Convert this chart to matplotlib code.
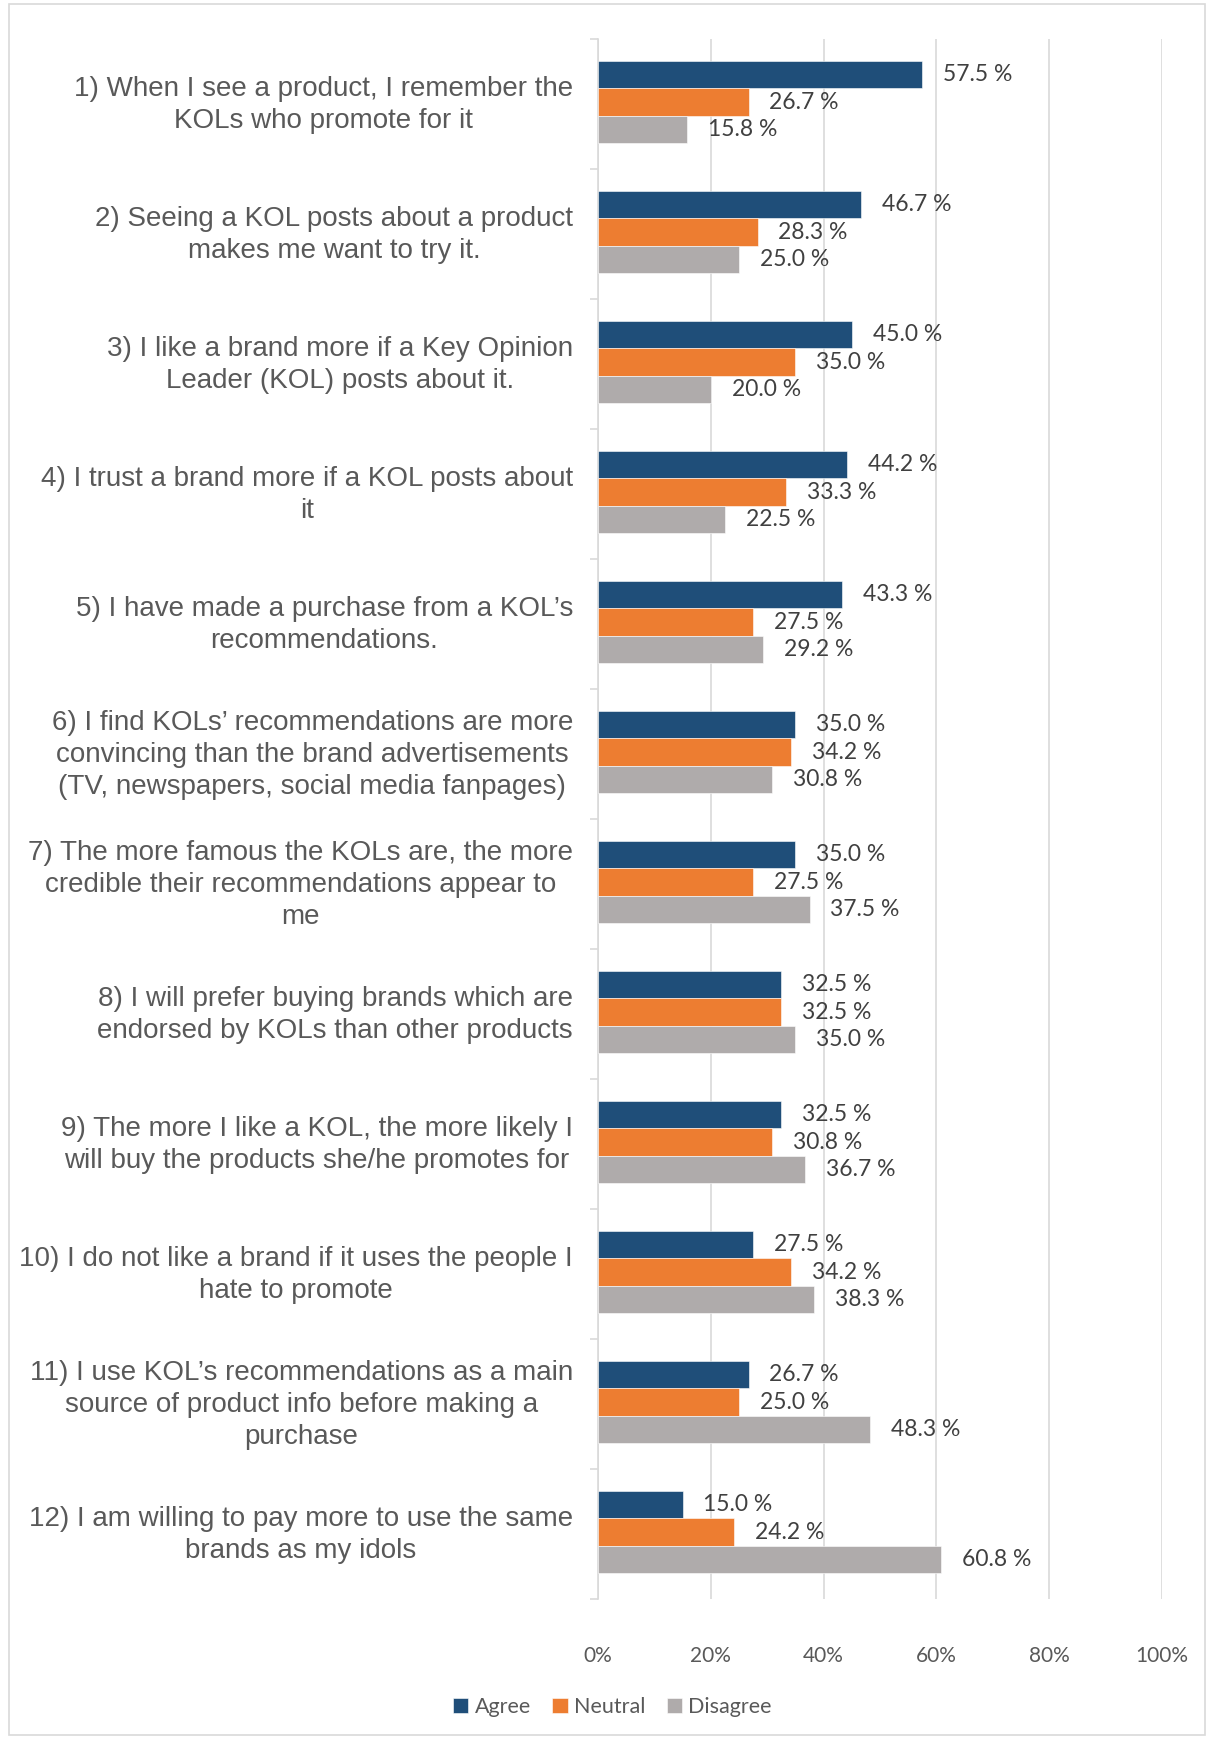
import numpy as np
import matplotlib
matplotlib.use("Agg")
import matplotlib.pyplot as plt
from matplotlib.patches import Rectangle

statements = [
    "1) When I see a product, I remember the\nKOLs who promote for it",
    "2) Seeing a KOL posts about a product\nmakes me want to try it.",
    "3) I like a brand more if a Key Opinion\nLeader (KOL) posts about it.",
    "4) I trust a brand more if a KOL posts about\nit",
    "5) I have made a purchase from a KOL\u2019s\nrecommendations.",
    "6) I find KOLs\u2019 recommendations are more\nconvincing than the brand advertisements\n(TV, newspapers, social media fanpages)",
    "7) The more famous the KOLs are, the more\ncredible their recommendations appear to\nme",
    "8) I will prefer buying brands which are\nendorsed by KOLs than other products",
    "9) The more I like a KOL, the more likely I\nwill buy the products she/he promotes for",
    "10) I do not like a brand if it uses the people I\nhate to promote",
    "11) I use KOL\u2019s recommendations as a main\nsource of product info before making a\npurchase",
    "12) I am willing to pay more to use the same\nbrands as my idols",
]
agree = [57.5, 46.7, 45.0, 44.2, 43.3, 35.0, 35.0, 32.5, 32.5, 27.5, 26.7, 15.0]
neutral = [26.7, 28.3, 35.0, 33.3, 27.5, 34.2, 27.5, 32.5, 30.8, 34.2, 25.0, 24.2]
disagree = [15.8, 25.0, 20.0, 22.5, 29.2, 30.8, 37.5, 35.0, 36.7, 38.3, 48.3, 60.8]
series_names = ["Agree", "Neutral", "Disagree"]
series_colors = ["#1f4e79", "#ed7d31", "#afabab"]
xtick_values = [0, 20, 40, 60, 80, 100]

W, H = 1213, 1737
fig = plt.figure(figsize=(W / 100, H / 100), dpi=100)
fig.patches.append(Rectangle((9 / W, 2 / H), (1205 - 9) / W, (1733 - 2) / H,
                             transform=fig.transFigure, fill=False,
                             edgecolor="#d9d9d9", linewidth=1.2))

ax = fig.add_axes([598 / W, 1 - 1599 / H, (1162 - 598) / W, (1599 - 39) / H])

n = len(statements)
y = np.arange(n) - 0.015
bar_h = 0.21
for k, (vals, name, col) in enumerate(zip([agree, neutral, disagree], series_names, series_colors)):
    pos = y + (k - 1) * bar_h
    ax.barh(pos, vals, height=bar_h, color=col, label=name, zorder=3,
            edgecolor="white", linewidth=0.4)
    for p, v in zip(pos, vals):
        ax.annotate(f"{v:.1f} %", (v, p), xytext=(15, 0), textcoords="offset points",
                    va="center", ha="left", fontsize=16.5, color="#404040",
                    family=["Lato", "DejaVu Sans"])

ax.set_xlim(0, 100)
ax.set_ylim(n - 0.5, -0.5)
ax.set_xticks(xtick_values)
ax.set_xticklabels([f"{v}%" for v in xtick_values], fontsize=15, color="#595959",
                   family=["Lato", "DejaVu Sans"])
ax.tick_params(axis="x", length=0, pad=34)
ax.grid(axis="x", color="#d9d9d9", linewidth=1.2, zorder=0)

ax.set_yticks(np.arange(n) - 0.04)
ax.set_yticklabels(statements, fontsize=20, color="#595959",
                   family=["Liberation Sans", "DejaVu Sans"],
                   multialignment="center", linespacing=1.3)
ax.tick_params(axis="y", length=0, pad=18)
ax.set_yticks(np.arange(n + 1) - 0.5, minor=True)
ax.tick_params(axis="y", which="minor", length=6, color="#d9d9d9", width=1.2)

for side in ["top", "right", "bottom"]:
    ax.spines[side].set_visible(False)
ax.spines["left"].set_color("#d9d9d9")
ax.spines["left"].set_linewidth(1.2)

leg = fig.legend(loc="center", bbox_to_anchor=(0.505, 0.0175), ncol=3, frameon=False,
                 prop={"family": ["Lato", "DejaVu Sans"], "size": 15.5},
                 handlelength=0.7, handleheight=0.7, handletextpad=0.3, columnspacing=1.0)
for t in leg.get_texts():
    t.set_color("#595959")

fig.savefig("out.png", dpi=100)
